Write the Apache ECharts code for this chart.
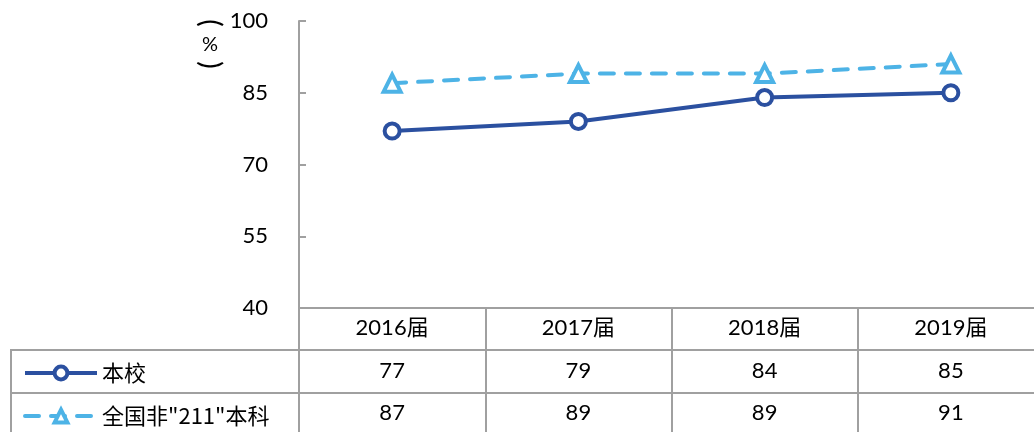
<!DOCTYPE html>
<html>
<head>
<meta charset="utf-8">
<script src="https://cdn.jsdelivr.net/npm/echarts@6/dist/echarts.min.js"></script>
<style>
  html, body { margin: 0; padding: 0; background: #fff; }
  #chart { width: 1034px; height: 432px; }
</style>
</head>
<body>
<div id="chart"></div>
<script>
const categories = ['2016届', '2017届', '2018届', '2019届'];
const schoolName = '本校';
const schoolValues = [77, 79, 84, 85];
const nationName = '全国非"211"本科';
const nationValues = [87, 89, 89, 91];
const yTicks = { min: 40, max: 100, interval: 15 };

const DARK = '#2b50a0';
const LIGHT = '#4db3e6';
const GRID_GRAY = '#a0a0a0';
const NUM_FONT = 'Lato, "Noto Sans CJK SC", sans-serif';
const CJK_FONT = '"Noto Sans CJK SC", Lato, sans-serif';

const myChart = echarts.init(document.getElementById('chart'));

function legendAt(name, top) {
    return {
        data: [name],
        left: 18,
        top: top,
        itemWidth: 72,
        itemHeight: 16,
        lineStyle: { width: 4 },
        itemStyle: { borderWidth: 4 },
        textStyle: { fontSize: 22, lineHeight: 22, color: '#000', fontFamily: CJK_FONT, padding: [0, 0, 0, 0] }
    };
}

const option = {
    animation: false,
    textStyle: { color: '#000', fontFamily: NUM_FONT },
    grid: { left: 299, top: 21, width: 745, height: 287, outerBoundsMode: 'none' },
    legend: [legendAt(schoolName, 357), legendAt(nationName, 400)],
    xAxis: {
        type: 'category',
        data: categories,
        boundaryGap: true,
        axisLine: { lineStyle: { color: GRID_GRAY, width: 2 } },
        axisTick: { show: true, interval: 0, length: 128, lineStyle: { color: GRID_GRAY, width: 2 } },
        axisLabel: { margin: 9, fontSize: 22, color: '#000', fontFamily: NUM_FONT },
        splitLine: { show: false }
    },
    yAxis: {
        type: 'value',
        min: yTicks.min,
        max: yTicks.max,
        interval: yTicks.interval,
        axisLine: { show: true, lineStyle: { color: GRID_GRAY, width: 2 } },
        axisTick: { show: true, inside: true, length: 7, lineStyle: { color: GRID_GRAY, width: 2 } },
        axisLabel: { margin: 31, fontSize: 22, color: '#000', fontFamily: NUM_FONT },
        splitLine: { show: false }
    },
    series: [
        {
            name: schoolName,
            type: 'line',
            data: schoolValues,
            symbol: 'circle',
            symbolSize: 15,
            lineStyle: { color: DARK, width: 4 },
            itemStyle: { color: '#fff', borderColor: DARK, borderWidth: 4 },
            z: 3
        },
        {
            name: nationName,
            type: 'line',
            data: nationValues,
            symbol: 'triangle',
            symbolSize: 17,
            lineStyle: { color: LIGHT, width: 4, type: [14, 12], cap: 'round' },
            itemStyle: { color: '#fff', borderColor: LIGHT, borderWidth: 4 },
            z: 2
        }
    ]
};

myChart.setOption(option);

// data table under the axis, placed from the axis scale
function drawTable() {
    const rows = [schoolValues, nationValues];
    const rowCenters = [371, 413];
    const graphics = [];
    // horizontal rules
    [350, 393].forEach(function (y) {
        graphics.push({
            type: 'line',
            shape: { x1: 11, y1: y, x2: 1034, y2: y },
            style: { stroke: GRID_GRAY, lineWidth: 2 }
        });
    });
    graphics.push({
        type: 'line',
        shape: { x1: 11, y1: 349, x2: 11, y2: 432 },
        style: { stroke: GRID_GRAY, lineWidth: 2 }
    });
    rows.forEach(function (vals, r) {
        vals.forEach(function (v, i) {
            const x = myChart.convertToPixel({ xAxisIndex: 0 }, categories[i]);
            graphics.push({
                type: 'text',
                x: x,
                y: rowCenters[r],
                style: {
                    text: String(v),
                    fontSize: 22,
                    fontFamily: NUM_FONT,
                    fill: '#000',
                    align: 'center',
                    verticalAlign: 'middle'
                }
            });
        });
    });
    // vertical "(%)" unit label
    graphics.push(
        { type: 'text', x: 210, y: 23, rotation: -Math.PI / 2,
          style: { text: '(', fontSize: 28, fontFamily: NUM_FONT, fill: '#000', align: 'center', verticalAlign: 'middle' } },
        { type: 'text', x: 210, y: 45,
          style: { text: '%', fontSize: 20, fontFamily: NUM_FONT, fill: '#000', align: 'center', verticalAlign: 'middle' } },
        { type: 'text', x: 210, y: 65, rotation: -Math.PI / 2,
          style: { text: ')', fontSize: 28, fontFamily: NUM_FONT, fill: '#000', align: 'center', verticalAlign: 'middle' } }
    );
    myChart.setOption({ graphic: graphics });
}
drawTable();
</script>
</body>
</html>
